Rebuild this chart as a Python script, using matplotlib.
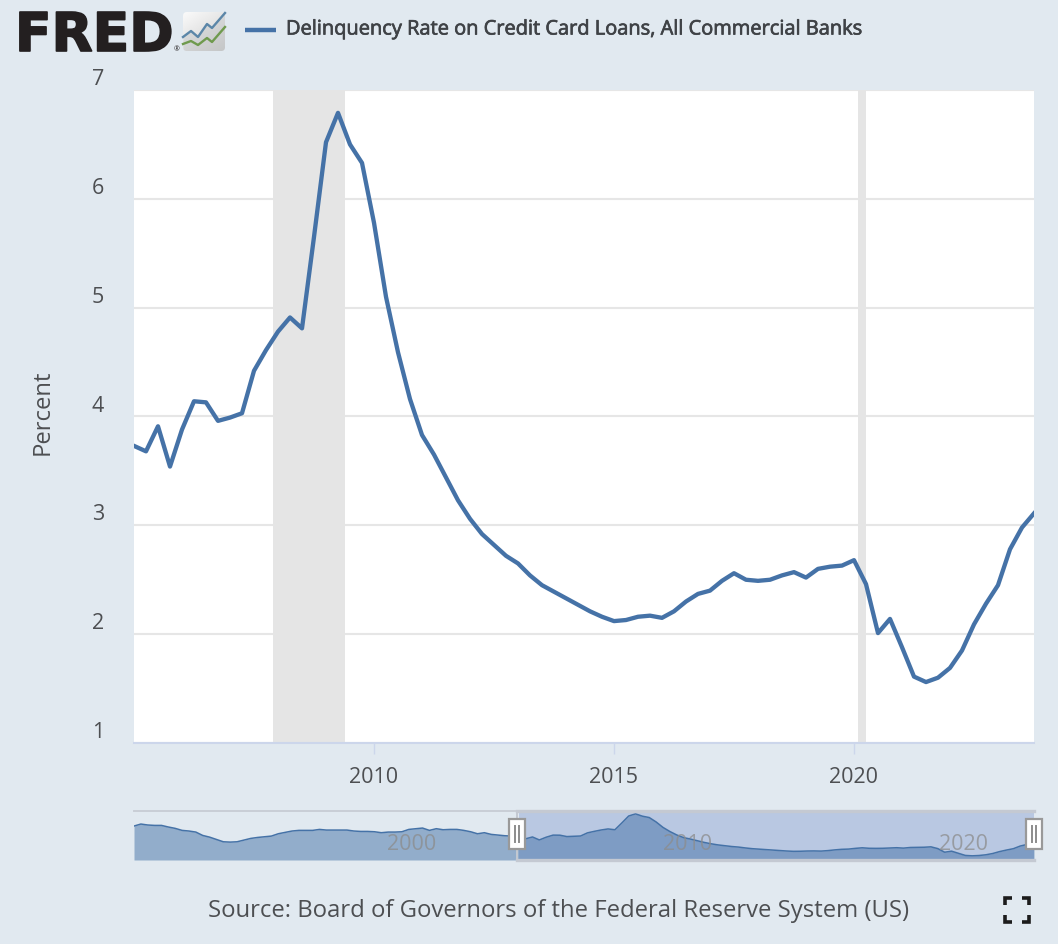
import numpy as np
import matplotlib
matplotlib.use('Agg')
import matplotlib.pyplot as plt
import matplotlib.patheffects as pe
from matplotlib.patches import FancyBboxPatch, Rectangle

W, H = 1058, 944
BG = '#e1e9f0'
BLUE = '#4572a7'
GRID = '#e6e6e6'
TEXT = '#4d4f52'

plt.rcParams['font.family'] = ['Open Sans', 'DejaVu Sans']

# quarterly rate, 2005Q1 to 2023Q4
rate = [3.73, 3.68, 3.91, 3.54, 3.88, 4.14, 4.13, 3.96, 3.99, 4.03,
        4.42, 4.61, 4.78, 4.91, 4.81, 5.65, 6.52, 6.79, 6.50, 6.33,
        5.78, 5.10, 4.59, 4.16, 3.83, 3.65, 3.44, 3.23, 3.06, 2.92,
        2.82, 2.72, 2.65, 2.54, 2.45, 2.39, 2.33, 2.27, 2.21, 2.16,
        2.12, 2.13, 2.16, 2.17, 2.15, 2.21, 2.30, 2.37, 2.40, 2.49,
        2.56, 2.50, 2.49, 2.50, 2.54, 2.57, 2.52, 2.60, 2.62, 2.63,
        2.68, 2.46, 2.01, 2.14, 1.88, 1.61, 1.56, 1.60, 1.69, 1.85,
        2.09, 2.28, 2.45, 2.78, 2.98, 3.11]
# navigator only, 1991Q1 to 2004Q4
rate_early = [5.27, 5.52, 5.40, 5.35, 5.35, 5.15, 4.98, 4.73, 4.65, 4.52,
              4.10, 3.89, 3.60, 3.31, 3.27, 3.31, 3.52, 3.73, 3.85, 3.94,
              4.02, 4.31, 4.48, 4.65, 4.73, 4.73, 4.73, 4.85, 4.77, 4.77,
              4.77, 4.77, 4.65, 4.60, 4.60, 4.56, 4.44, 4.52, 4.52, 4.56,
              4.85, 4.94, 5.02, 4.73, 4.94, 4.81, 4.85, 4.85, 4.73, 4.56,
              4.31, 4.44, 4.23, 4.14, 4.06, 4.02]
recessions = [(2007.9, 2009.4), (2020.08, 2020.25)]
y_ticks = [1, 2, 3, 4, 5, 6, 7]
x_ticks = [2010, 2015, 2020]
nav_labels = [2000, 2010, 2020]

years = 2005 + np.arange(len(rate)) / 4
all_rate = rate_early + rate
all_years = 1991 + np.arange(len(all_rate)) / 4


def px_axes(x0, y0, x1, y1, **kw):
    return fig.add_axes([x0 / W, 1 - y1 / H, (x1 - x0) / W, (y1 - y0) / H], **kw)


fig = plt.figure(figsize=(W / 100, H / 100), dpi=100, facecolor=BG)

# main chart
ax = px_axes(134, 90, 1034, 743, facecolor='white')
ax.set_xlim(2005, 2023.75)
ax.set_ylim(1, 7)
ax.yaxis.grid(True, color=GRID, lw=1.5, zorder=1)
ax.set_axisbelow(True)
for start, end in recessions:
    ax.axvspan(start, end, color='#e5e5e5', lw=0, zorder=2)
ax.plot(years, rate, color=BLUE, lw=3.1, zorder=3)
for s in ['top', 'left', 'right']:
    ax.spines[s].set_visible(False)
ax.spines['bottom'].set_color('#ccd6eb')
ax.spines['bottom'].set_linewidth(1.5)
ax.set_xticks(x_ticks)
ax.tick_params(axis='x', length=8, width=1, color='#ccd6eb', labelsize=15.5, labelcolor=TEXT, pad=9)
ax.set_yticks(y_ticks)
ax.tick_params(axis='y', length=0, labelsize=15.5, labelcolor=TEXT, pad=21.5)
for lab in ax.get_yticklabels():
    lab.set_va('bottom')

# navigator
nav = px_axes(134, 810, 1034, 860, facecolor='none')
nav.set_xlim(all_years[0], all_years[-1])
nav.set_ylim(1.04, 7.27)
nav.axis('off')
nav.axvspan(years[0], years[-1], color='#b9c8e2', lw=0, zorder=1)
nav.fill_between(all_years, all_rate, 1.04, color=BLUE, alpha=0.5, lw=0, zorder=2)
nav.plot(all_years, all_rate, color=BLUE, lw=1.1, zorder=3)

# page level things in pixel coordinates
over = fig.add_axes([0, 0, 1, 1], facecolor='none')
over.set_xlim(0, W)
over.set_ylim(H, 0)
over.axis('off')

for yr, xp in zip(nav_labels, [412, 688, 963]):
    over.text(xp, 845, str(yr), ha='center', va='center', fontsize=15.5, color='#8c8c8c', alpha=0.75)

over.plot([134, 1034], [810.5, 810.5], color='#c9ced6', lw=1.4)
over.plot([517, 1034], [811, 811], color='#c4c9d2', lw=2.4)
over.plot([517, 1034], [860, 860], color='#c4c9d2', lw=2.4)
over.plot([517, 517], [811, 860], color='#c4c9d2', lw=1.4)
for x0 in [509, 1026]:
    over.add_patch(Rectangle((x0, 819), 16, 30, fc='white', ec='#999999', lw=1.6, zorder=5))
    for dx in [6, 10]:
        over.plot([x0 + dx, x0 + dx], [826, 842], color='#8c8c8c', lw=1.4, zorder=6)

over.text(43, 412.5, 'Percent', rotation=90, ha='center', va='center', fontsize=17.2, color=TEXT)
over.text(558.5, 911, 'Source: Board of Governors of the Federal Reserve System (US)',
          ha='center', va='center', fontsize=17.2, color=TEXT)

# legend
over.plot([245, 276], [30, 30], color=BLUE, lw=3.2, solid_capstyle='butt')
over.text(286, 29.5, 'Delinquency Rate on Credit Card Loans, All Commercial Banks',
          ha='left', va='center', fontsize=14.42, color='#3f4246',
          path_effects=[pe.withStroke(linewidth=0.5, foreground='#3f4246')])

# logo
over.text(15, 51, 'FRED', ha='left', va='baseline', fontsize=38.5, color='#231f20',
          family='DejaVu Sans', fontweight='bold',
          path_effects=[pe.withStroke(linewidth=1.2, foreground='#231f20')])
over.text(177, 50, '®', ha='center', va='center', fontsize=5, color='#231f20')

grad = np.linspace(0, 1, 40)[:, None] * 0.6 + np.linspace(0, 1, 40)[None, :] * 0.4
im = over.imshow(0.98 - grad * 0.18, extent=(183, 225, 51, 12), cmap='gray', vmin=0, vmax=1,
                 aspect='auto', zorder=1)
box = FancyBboxPatch((185, 14), 38, 35, boxstyle='round,pad=2,rounding_size=4',
                     fc='none', ec='none', transform=over.transData)
over.add_patch(box)
im.set_clip_path(box)
over.set_xlim(0, W)
over.set_ylim(H, 0)

icon_x = [183, 191, 198, 207, 212, 225]
icon_blue = [37, 31, 37, 24, 28, 13]
icon_green = [44, 41, 45, 38, 42, 27]
over.fill_between(icon_x, icon_blue, 51, color='#b8bcbf', alpha=0.35, lw=0, zorder=2).set_clip_path(box)
over.plot(icon_x, icon_blue, color='#5b86a8', lw=1.7, zorder=3)
over.plot(icon_x, icon_green, color='#6f9a4e', lw=1.7, zorder=3)

# fullscreen icon
for cx, cy, sx, sy in [(1005, 898, 1, 1), (1029, 898, -1, 1), (1005, 922, 1, -1), (1029, 922, -1, -1)]:
    over.plot([cx + sx * 7, cx, cx], [cy, cy, cy + sy * 7], color='#1c1c1c', lw=2.6,
              solid_joinstyle='miter', solid_capstyle='butt')

fig.savefig('out.png', dpi=100, facecolor=BG)
